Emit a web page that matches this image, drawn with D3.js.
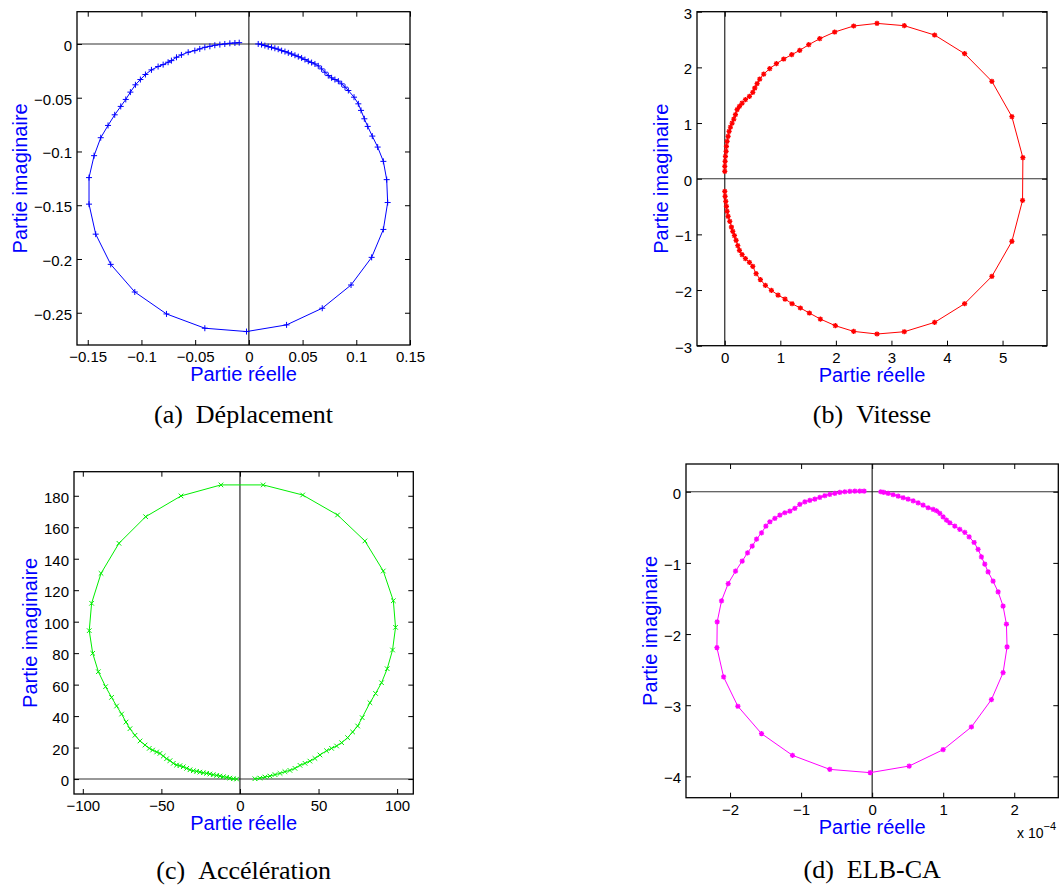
<!DOCTYPE html>
<html><head><meta charset="utf-8">
<script src="https://cdn.jsdelivr.net/npm/d3@7"></script>
<style>body{margin:0;background:#fff}svg{display:block}</style>
</head><body>
<svg id="chart" width="1061" height="891"></svg>
<script>
// ---------- DATA ----------
const deplRe = [0.0087,0.0118,0.0149,0.0180,0.0211,0.0242,0.0273,0.0305,0.0336,0.0367,0.0398,0.0429,0.0460,0.0491,0.0522,0.0553,0.0584,0.0615,0.0646,0.0677,0.0708,0.0739,0.0770,0.0801,0.0833,0.0864,0.0895,0.0926,0.0979,0.1019,0.1044,0.1075,0.1106,0.1149,0.1199,0.1252,0.1283,0.1292,0.1252,0.1143,0.0951,0.0683,0.0351,-0.0022,-0.0410,-0.0767,-0.1062,-0.1286,-0.1426,-0.1488,-0.1488,-0.1441,-0.1379,-0.1311,-0.1249,-0.1193,-0.1146,-0.1103,-0.1056,-0.1010,-0.0963,-0.0907,-0.0845,-0.0798,-0.0752,-0.0721,-0.0674,-0.0628,-0.0565,-0.0503,-0.0457,-0.0410,-0.0363,-0.0317,-0.0270,-0.0224,-0.0177,-0.0130,-0.0090];
const deplIm = [0,-0.0006,-0.0015,-0.0025,-0.0031,-0.0040,-0.0049,-0.0062,-0.0071,-0.0083,-0.0093,-0.0105,-0.0118,-0.0130,-0.0145,-0.0161,-0.0173,-0.0186,-0.0204,-0.0232,-0.0263,-0.0294,-0.0315,-0.0331,-0.0346,-0.0371,-0.0402,-0.0433,-0.0495,-0.0557,-0.0618,-0.0696,-0.0767,-0.0857,-0.0959,-0.1092,-0.1262,-0.1475,-0.1725,-0.1985,-0.2242,-0.2458,-0.2613,-0.2675,-0.2644,-0.2511,-0.2307,-0.2050,-0.1769,-0.1490,-0.1243,-0.1039,-0.0872,-0.0758,-0.0659,-0.0581,-0.0516,-0.0448,-0.0380,-0.0331,-0.0284,-0.0241,-0.0210,-0.0192,-0.0170,-0.0155,-0.0124,-0.0102,-0.0077,-0.0062,-0.0046,-0.0031,-0.0022,-0.0012,-0.0006,0.0000,0.0006,0.0009,0.0012];

const vitRe = [0,0,0.006,0.012,0.024,0.030,0.042,0.060,0.078,0.102,0.132,0.162,0.192,0.222,0.264,0.312,0.372,0.444,0.504,0.540,0.582,0.629,0.701,0.809,0.929,1.061,1.205,1.349,1.511,1.709,1.978,2.320,2.740,3.231,3.777,4.317,4.808,5.168,5.366,5.360,5.168,4.808,4.317,3.777,3.231,2.740,2.320,1.990,1.721,1.523,1.361,1.211,1.085,0.959,0.839,0.731,0.641,0.564,0.504,0.444,0.372,0.312,0.264,0.234,0.204,0.174,0.144,0.120,0.090,0.060,0.042,0.030,0.018,0.006,0];
const vitIm = [0.132,0.222,0.311,0.401,0.491,0.581,0.671,0.760,0.850,0.928,1.000,1.072,1.150,1.240,1.299,1.359,1.419,1.479,1.551,1.629,1.707,1.790,1.880,1.976,2.066,2.150,2.228,2.305,2.407,2.515,2.635,2.743,2.790,2.749,2.581,2.246,1.749,1.114,0.377,-0.389,-1.126,-1.754,-2.246,-2.581,-2.749,-2.790,-2.743,-2.641,-2.521,-2.413,-2.323,-2.246,-2.162,-2.090,-2.006,-1.916,-1.814,-1.707,-1.575,-1.503,-1.437,-1.365,-1.287,-1.204,-1.108,-1.024,-0.946,-0.868,-0.766,-0.677,-0.587,-0.497,-0.407,-0.317,-0.228];

const accRe = [-2.1,-4.2,-6.4,-8.5,-10.6,-12.7,-14.8,-17.0,-19.1,-21.2,-23.3,-25.5,-27.6,-29.7,-31.8,-33.9,-36.1,-38.2,-40.3,-42.4,-44.5,-46.7,-48.8,-50.9,-53.0,-55.6,-57.7,-60.4,-63.6,-66.8,-70.0,-72.5,-75.3,-78.5,-81.7,-85.5,-90.1,-93.7,-95.9,-94.4,-88.4,-77.0,-60.0,-37.5,-12.1,14.8,39.9,62.1,79.5,91.2,97.6,99.0,97.1,93.7,90.1,86.3,82.7,77.8,74.9,71.7,68.5,64.7,61.5,58.3,55.1,50.9,47.7,44.5,41.4,38.2,35.0,31.8,28.6,25.5,22.3,19.1,15.9,12.7,9.5];
const accIm = [0,0.2,0.6,1.1,1.5,1.9,2.3,2.8,3.2,3.6,4.0,4.4,4.9,5.3,5.9,6.8,7.8,8.5,8.9,10.0,11.7,12.9,14.6,16.3,17.2,18.4,19.5,21.6,24.2,27.8,32.0,36.2,41.3,46.4,51.9,58.7,68.2,79.9,94.3,111.7,130.7,149.8,166.7,179.9,186.9,186.9,180.5,167.8,151.3,132.2,113.3,96.4,82.0,70.1,61.2,54.4,48.5,39.0,33.7,29.9,26.3,23.1,21.0,19.5,18.0,15.3,13.1,11.4,10.0,8.7,6.8,5.5,4.7,3.6,2.8,1.9,1.3,0.6,0.2];

// ELB-CA real part in units of 1e-4
const elbRe = [-0.113,-0.174,-0.244,-0.314,-0.385,-0.455,-0.525,-0.596,-0.666,-0.736,-0.807,-0.877,-0.947,-1.018,-1.088,-1.158,-1.229,-1.299,-1.369,-1.440,-1.496,-1.557,-1.627,-1.688,-1.754,-1.829,-1.923,-2.026,-2.120,-2.181,-2.185,-2.091,-1.890,-1.557,-1.121,-0.596,-0.028,0.521,0.999,1.397,1.679,1.843,1.899,1.890,1.843,1.773,1.702,1.632,1.585,1.538,1.491,1.435,1.365,1.304,1.233,1.163,1.093,1.046,0.999,0.952,0.905,0.858,0.788,0.717,0.647,0.577,0.506,0.436,0.366,0.295,0.225,0.164,0.122];
const elbIm = [0.009,0.009,0.009,0.005,0,-0.009,-0.023,-0.038,-0.056,-0.080,-0.103,-0.122,-0.141,-0.178,-0.234,-0.272,-0.295,-0.328,-0.375,-0.422,-0.483,-0.577,-0.666,-0.764,-0.858,-0.975,-1.116,-1.290,-1.533,-1.829,-2.190,-2.603,-3.015,-3.400,-3.705,-3.902,-3.948,-3.855,-3.625,-3.306,-2.921,-2.542,-2.181,-1.862,-1.608,-1.407,-1.257,-1.125,-1.018,-0.914,-0.811,-0.713,-0.633,-0.572,-0.530,-0.483,-0.436,-0.399,-0.352,-0.305,-0.267,-0.249,-0.225,-0.188,-0.155,-0.127,-0.103,-0.084,-0.061,-0.042,-0.023,-0.009,0];

// tick labels
const ticksAX = [-0.15,-0.1,-0.05,0,0.05,0.1,0.15];
const ticksAY = [-0.25,-0.2,-0.15,-0.1,-0.05,0];
const ticksBX = [0,1,2,3,4,5];
const ticksBY = [-3,-2,-1,0,1,2,3];
const ticksCX = [-100,-50,0,50,100];
const ticksCY = [0,20,40,60,80,100,120,140,160,180];
const ticksDX = [-2,-1,0,1,2];
const ticksDY = [-4,-3,-2,-1,0];

const captions = ["(a)\u2002Déplacement","(b)\u2002Vitesse","(c)\u2002Accélération","(d)\u2002ELB-CA"];
const xLabel = "Partie réelle";
const yLabel = "Partie imaginaire";

// ---------- LAYOUT ----------
const panels = [
  {re:deplRe, im:deplIm, color:"#0000ff", marker:"plus", box:[77,11.7,410,345], xd:[-0.16,0.15], yd:[-0.28,0.03], tx:ticksAX, ty:ticksAY, cap:captions[0], capY:423},
  {re:vitRe, im:vitIm, color:"#ff0000", marker:"star", box:[697,11.7,1047,345.7], xd:[-0.5,5.8], yd:[-3,3], tx:ticksBX, ty:ticksBY, cap:captions[1], capY:423},
  {re:accRe, im:accIm, color:"#00ee00", marker:"cross", box:[74,471.7,413.3,794], xd:[-105.6,110.3], yd:[-9.5,195.3], tx:ticksCX, ty:ticksCY, cap:captions[2], capY:879},
  {re:elbRe, im:elbIm, color:"#ff00ff", marker:"star", box:[686,464,1058.3,797.7], xd:[-2.62,2.62], yd:[-4.3,0.39], tx:ticksDX, ty:ticksDY, cap:captions[3], capY:878, exp:true}
];

const svg = d3.select("#chart");
const fmt = d => d3.format("~g")(d).replace("-", "\u2212");

function markerPath(m, x, y){
  const s = m==="plus"?3:2.6;
  const c = 2.3;
  if(m==="plus") return `M${x-s},${y}H${x+s}M${x},${y-s}V${y+s}`;
  if(m==="cross") return `M${x-c},${y-c}L${x+c},${y+c}M${x-c},${y+c}L${x+c},${y-c}`;
  return `M${x-s},${y}H${x+s}M${x},${y-s}V${y+s}M${x-1.9},${y-1.9}L${x+1.9},${y+1.9}M${x-1.9},${y+1.9}L${x+1.9},${y-1.9}`;
}

panels.forEach((p,i)=>{
  const [L,T,R,B] = p.box;
  const x = d3.scaleLinear().domain(p.xd).range([L,R]);
  const y = d3.scaleLinear().domain(p.yd).range([B,T]);
  const g = svg.append("g");
  const n = Math.min(p.re.length, p.im.length);
  const pts = d3.range(n).map(k=>[p.re[k], p.im[k]]);

  const clipId = "clip"+i;
  svg.append("clipPath").attr("id",clipId).append("rect").attr("x",L).attr("y",T).attr("width",R-L).attr("height",B-T);
  const inner = g.append("g").attr("clip-path",`url(#${clipId})`);

  // zero lines
  inner.append("line").attr("x1",L).attr("x2",R).attr("y1",y(0)).attr("y2",y(0)).attr("stroke","#333").attr("stroke-width",1.1);
  inner.append("line").attr("x1",x(0)).attr("x2",x(0)).attr("y1",T).attr("y2",B).attr("stroke","#111").attr("stroke-width",1.1);

  // curve + markers
  inner.append("path").datum(pts)
    .attr("d", d3.line().x(d=>x(d[0])).y(d=>y(d[1])))
    .attr("fill","none").attr("stroke",p.color).attr("stroke-width",1);
  inner.append("path")
    .attr("d", pts.map(d=>markerPath(p.marker, x(d[0]), y(d[1]))).join(""))
    .attr("fill","none").attr("stroke",p.color).attr("stroke-width",p.marker==="star"?1.3:1);

  // axes with inward ticks on all four sides
  const tl = 5;
  const axB = d3.axisBottom(x).tickValues(p.tx).tickSizeInner(-tl).tickSizeOuter(0).tickFormat(fmt).tickPadding(0);
  const axT = d3.axisTop(x).tickValues(p.tx).tickSizeInner(-tl).tickSizeOuter(0).tickFormat("");
  const axL = d3.axisLeft(y).tickValues(p.ty).tickSizeInner(-tl).tickSizeOuter(0).tickFormat(fmt);
  const axR = d3.axisRight(y).tickValues(p.ty).tickSizeInner(-tl).tickSizeOuter(0).tickFormat("");
  const style = sel => { sel.select(".domain").remove(); sel.selectAll(".tick line").attr("stroke","#000"); sel.selectAll("text").attr("font-family","'Liberation Sans', Arial, sans-serif").attr("font-size",15).attr("fill","#000"); };
  const gb = g.append("g").attr("transform",`translate(0,${B})`).call(axB).call(style);
  gb.selectAll("text").attr("y",17).attr("dy",null);
  g.append("g").attr("transform",`translate(0,${T})`).call(axT).call(style);
  const gl = g.append("g").attr("transform",`translate(${L},0)`).call(axL).call(style);
  gl.selectAll("text").attr("x",-5).attr("dy",null).attr("y",6.5);
  g.append("g").attr("transform",`translate(${R},0)`).call(axR).call(style);

  // box
  g.append("rect").attr("x",L).attr("y",T).attr("width",R-L).attr("height",B-T)
    .attr("fill","none").attr("stroke","#000").attr("stroke-width",1.3);

  // axis labels
  g.append("text").attr("x",(L+R)/2).attr("y",B+36).attr("text-anchor","middle")
    .attr("font-family","'Liberation Sans', Arial, sans-serif").attr("font-size",20).attr("fill","#0000ff").text(xLabel);
  let maxW = 0;
  gl.selectAll("text").each(function(){ maxW = Math.max(maxW, this.getComputedTextLength()); });
  const lx = L - 5 - maxW - 7;
  g.append("text").attr("transform",`translate(${lx},${(T+B)/2}) rotate(-90)`).attr("text-anchor","middle")
    .attr("font-family","'Liberation Sans', Arial, sans-serif").attr("font-size",20).attr("fill","#0000ff").text(yLabel);

  // exponent
  if(p.exp){
    const t = g.append("text").attr("x",1017).attr("y",838)
      .attr("font-family","'Liberation Sans', Arial, sans-serif").attr("font-size",14).attr("fill","#000");
    t.append("tspan").text("x 10");
    t.append("tspan").attr("dy",-8).attr("font-size",11).text("\u22124");
  }

  // caption
  g.append("text").attr("x",(L+R)/2).attr("y",p.capY).attr("text-anchor","middle")
    .attr("font-family","'Liberation Serif', 'Times New Roman', serif").attr("font-size",26).attr("fill","#000").text(p.cap);
});
</script>
</body></html>
